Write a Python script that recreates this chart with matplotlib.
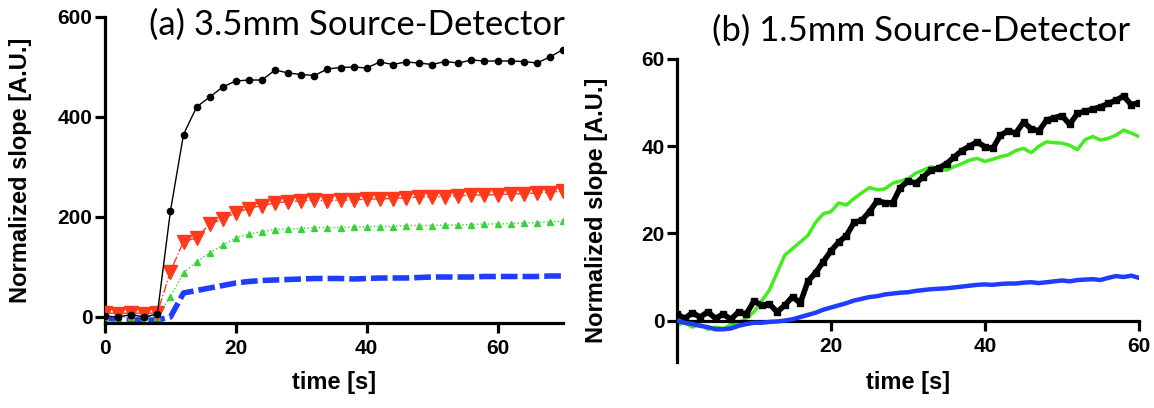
import numpy as np
import matplotlib
matplotlib.use("Agg")
import matplotlib.pyplot as plt

# ---- panel (a): 3.5 mm source-detector, sampled every 2 s ----
t_a = list(range(0, 71, 2))
black_a = [2, 0, 5, 0, 6, 212, 365, 420, 440, 460, 472, 474, 474, 494, 488, 485,
           483, 496, 499, 500, 498, 510, 505, 510, 508, 505, 511, 508, 514, 512,
           512, 512, 511, 508, 520, 535]
red_a = [8, 7, 8, 7, 8, 91, 151, 158, 186, 196, 209, 217, 223, 228, 231, 232,
         234, 232, 234, 234, 236, 236, 237, 238, 240, 240, 241, 242, 244, 244,
         245, 246, 247, 248, 249, 252]
green_a = [0, 0, 0, 0, 1, 41, 88, 111, 128, 144, 158, 166, 171, 175, 176, 177,
           179, 179, 179, 180, 181, 181, 181, 183, 183, 183, 184, 184, 185, 186,
           186, 187, 188, 189, 190, 192]
blue_a = [-3, -4, -5, -6, -6, 0, 48, 53, 58, 63, 68, 71, 73, 74, 75, 76,
          77, 77, 77, 76, 77, 78, 78, 78, 79, 80, 80, 80, 80, 81,
          81, 81, 81, 81, 82, 82]

# ---- panel (b): 1.5 mm source-detector, read every 1 s ----
t_b = list(range(0, 61))
black_b = [1.5, 0.5, 1.8, 0.8, 2.0, 0.5, 1.5, 0.3, 2.0, 1.5,
           4.5, 3.5, 3.8, 2.0, 3.5, 5.5, 4.0, 9.0, 11.0, 13.5,
           16.0, 18.0, 19.5, 22.5, 23.0, 25.0, 27.5, 27.0, 27.0, 30.5,
           32.0, 31.5, 33.0, 34.5, 35.0, 36.0, 37.5, 39.0, 40.0, 41.0,
           39.8, 39.5, 42.5, 43.5, 43.0, 45.5, 44.0, 43.5, 46.0, 46.5,
           47.0, 45.0, 47.5, 48.0, 48.5, 49.0, 49.8, 50.5, 51.5, 49.5, 50.0]
green_b = [-1.0, -0.5, -1.5, -0.8, -2.0, -1.5, -1.8, -1.0, -0.5, 0.5,
           2.0, 4.5, 7.0, 11.0, 15.0, 16.5, 18.0, 19.5, 22.5, 24.5,
           25.0, 27.0, 26.5, 28.0, 29.3, 30.5, 30.0, 30.2, 31.5, 32.0,
           32.5, 33.8, 34.5, 35.3, 34.8, 34.5, 35.3, 36.0, 36.8, 37.2,
           36.5, 37.0, 37.6, 38.0, 39.0, 39.5, 38.5, 40.0, 41.0, 40.8,
           40.7, 40.2, 39.2, 41.5, 42.2, 41.4, 41.8, 42.5, 43.7, 43.0, 42.2]
blue_b = [0.0, -0.5, -0.8, -1.2, -1.5, -2.0, -2.0, -1.8, -1.2, -0.8,
          -0.5, -0.5, -0.3, -0.2, 0.0, 0.3, 0.8, 1.3, 1.8, 2.5,
          3.0, 3.5, 4.0, 4.6, 5.0, 5.4, 5.6, 6.0, 6.2, 6.4,
          6.5, 6.8, 7.0, 7.2, 7.3, 7.4, 7.6, 7.8, 8.0, 8.2,
          8.3, 8.2, 8.4, 8.5, 8.5, 8.7, 8.8, 8.6, 8.8, 9.0,
          9.2, 9.0, 9.3, 9.4, 9.5, 9.3, 9.8, 10.2, 10.0, 10.3, 9.8]

RED = "#ff3a1c"
GREEN_A = "#3ad23a"
GREEN_B = "#43ec1f"
BLUE = "#1f3dff"

plt.rcParams["font.family"] = ["Liberation Sans", "DejaVu Sans"]
plt.rcParams["font.weight"] = "bold"

fig = plt.figure(figsize=(11.54, 4.08), dpi=100)
ax1 = fig.add_axes([105 / 1154, 85 / 408, 458 / 1154, 306 / 408])
ax2 = fig.add_axes([677 / 1154, 46 / 408, 462 / 1154, 303 / 408])


def style_axis(ax):
    for side in ("top", "right"):
        ax.spines[side].set_visible(False)
    for side in ("left", "bottom"):
        ax.spines[side].set_linewidth(2.3)
    ax.tick_params(width=2.3, length=7.5, labelsize=15, direction="out")
    ax.tick_params(axis="y", pad=1.5)
    ax.tick_params(axis="x", pad=4)
    for lab in ax.get_xticklabels() + ax.get_yticklabels():
        lab.set_fontweight("bold")


# panel (a)
ax1.plot(t_a, blue_a, color=BLUE, lw=4, dashes=(3, 0.9),
         dash_capstyle="butt", zorder=2)
ax1.plot(t_a, green_a, color=GREEN_A, lw=1, ls=":", marker="^", ms=5, zorder=3)
ax1.plot(t_a, red_a, color=RED, lw=1, ls="-.", marker="v", ms=10, zorder=4)
ax1.plot(t_a, black_a, color="black", lw=1, marker="o", ms=4.5, zorder=5)
ax1.set_xlim(0, 70)
ax1.set_ylim(-12, 600)
ax1.set_xticks([0, 20, 40, 60])
ax1.set_yticks([0, 200, 400, 600])
style_axis(ax1)
ax1.set_ylabel("Normalized slope [A.U.]", fontsize=17, fontweight="bold", va="center")
ax1.yaxis.set_label_coords(-0.185, 0.5)
ax1.set_xlabel("time [s]", fontsize=17, fontweight="bold", va="center")
ax1.xaxis.set_label_coords(0.5, -0.196)

# panel (b)
ax2.plot(t_b, green_b, color=GREEN_B, lw=2.5, zorder=2)
ax2.plot(t_b, black_b, color="black", lw=4, marker="s", ms=4, zorder=3)
ax2.plot(t_b, blue_b, color=BLUE, lw=3.2, zorder=4)
ax2.set_xlim(0, 60)
ax2.set_ylim(-9.5, 60)
ax2.spines["bottom"].set_position(("data", 0))
ax2.set_xticks([20, 40, 60])
ax2.set_yticks([0, 20, 40, 60])
style_axis(ax2)
ax2.set_ylabel("Normalized slope [A.U.]", fontsize=17, fontweight="bold", va="center")
ax2.yaxis.set_label_coords(-0.175, 0.5)
ax2.set_xlabel("time [s]", fontsize=17, fontweight="bold", va="center")
ax2.xaxis.set_label_coords(0.5, -0.069)

# panel titles
fig.text(565 / 1154, 1 - 25 / 408, "(a) 3.5mm Source-Detector", family="Lato",
         fontweight="normal", fontsize=25, ha="right", va="center")
fig.text(1130 / 1154, 1 - 31 / 408, "(b) 1.5mm Source-Detector", family="Lato",
         fontweight="normal", fontsize=25, ha="right", va="center")

fig.savefig("out.png", dpi=100)
